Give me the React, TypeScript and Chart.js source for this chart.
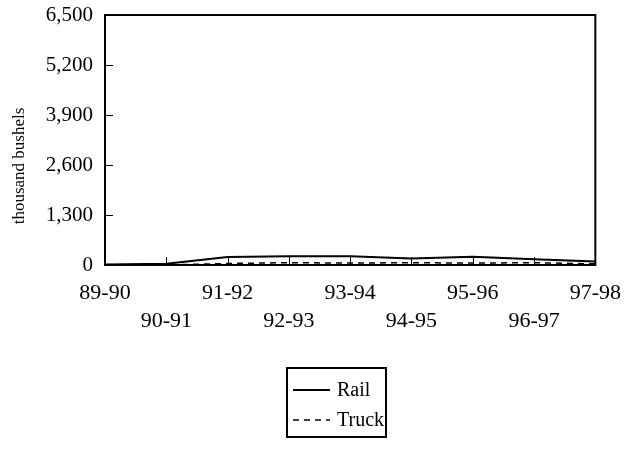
import React, { useEffect, useRef } from "react";
import { Chart, registerables } from "chart.js";

Chart.register(...registerables);

const categories = ["89-90", "90-91", "91-92", "92-93", "93-94", "94-95", "95-96", "96-97", "97-98"];
const railValues = [10, 30, 210, 230, 230, 170, 215, 150, 90];
const truckValues = [0, 0, 40, 60, 50, 60, 50, 60, 30];
const yTicks = [0, 1300, 2600, 3900, 5200, 6500];
const yTitle = "thousand bushels";

const FONT = "'Liberation Serif', 'Times New Roman', serif";

const framePlugin = {
  id: "frame",
  afterDraw(chart: any, _args: any, opts: any) {
    const { ctx, chartArea } = chart;
    const { left, right, top, bottom } = chartArea;
    const ys = chart.scales.y;
    const xs = chart.scales.x;
    ctx.save();
    ctx.strokeStyle = "#000";
    ctx.lineWidth = 2;
    ctx.setLineDash([]);
    ctx.strokeRect(left, top, right - left, bottom - top);
    ctx.lineWidth = 1;
    ctx.beginPath();
    yTicks.forEach((v) => {
      if (v === 0 || v === 6500) return;
      const y = Math.round(ys.getPixelForValue(v)) + 0.5;
      ctx.moveTo(left, y);
      ctx.lineTo(left + 8, y);
    });
    categories.forEach((_, i) => {
      if (i === 0 || i === categories.length - 1) return;
      const x = Math.round(xs.getPixelForValue(i)) + 0.5;
      ctx.moveTo(x, bottom);
      ctx.lineTo(x, bottom - 8);
    });
    ctx.stroke();
    // y-axis title
    ctx.translate(opts.titleX, opts.titleY);
    ctx.rotate(-Math.PI / 2);
    ctx.font = `17px ${FONT}`;
    ctx.fillStyle = "#000";
    ctx.textAlign = "center";
    ctx.textBaseline = "middle";
    ctx.fillText(yTitle, 0, 0);
    ctx.restore();
  },
};

const legendPlugin = {
  id: "boxLegend",
  afterDraw(chart: any, _args: any, opts: any) {
    const { ctx } = chart;
    const { x, y, w, h } = opts;
    ctx.save();
    ctx.fillStyle = "#fff";
    ctx.fillRect(x, y, w, h);
    ctx.strokeStyle = "#000";
    ctx.lineWidth = 2;
    ctx.setLineDash([]);
    ctx.strokeRect(x, y, w, h);
    ctx.font = `20px ${FONT}`;
    ctx.textBaseline = "middle";
    ctx.fillStyle = "#000";
    chart.data.datasets.forEach((ds: any, i: number) => {
      const ly = y + 22 + i * 30;
      ctx.beginPath();
      ctx.lineWidth = ds.borderWidth;
      ctx.setLineDash(ds.borderDash || []);
      ctx.moveTo(x + 6, ly);
      ctx.lineTo(x + 43, ly);
      ctx.stroke();
      ctx.setLineDash([]);
      ctx.fillText(ds.label, x + 50, ly + 1);
    });
    ctx.restore();
  },
};

export default function App() {
  const canvasRef = useRef<HTMLCanvasElement | null>(null);

  useEffect(() => {
    if (!canvasRef.current) return;
    const chart = new Chart(canvasRef.current, {
      type: "line",
      data: {
        labels: categories,
        datasets: [
          {
            label: "Rail",
            data: railValues,
            borderColor: "#000",
            borderWidth: 2,
            pointRadius: 0,
            tension: 0,
            fill: false,
          },
          {
            label: "Truck",
            data: truckValues,
            borderColor: "#000",
            borderWidth: 1.5,
            borderDash: [6, 5],
            pointRadius: 0,
            tension: 0,
            fill: false,
          },
        ],
      },
      options: {
        animation: false,
        responsive: true,
        maintainAspectRatio: false,
        layout: { padding: { left: 0, right: 35, top: 15, bottom: 0 } },
        plugins: {
          legend: { display: false },
          tooltip: { enabled: false },
          frame: { titleX: 20, titleY: 166 },
          boxLegend: { x: 287, y: 368, w: 99, h: 69 },
        } as any,
        scales: {
          x: {
            type: "category",
            offset: false,
            grid: { display: false, drawTicks: false },
            border: { display: false },
            ticks: {
              autoSkip: false,
              maxRotation: 0,
              minRotation: 0,
              padding: 14,
              color: "#000",
              font: { family: FONT, size: 22, lineHeight: 1.27 },
              callback: (_v: any, i: number) => (i % 2 === 0 ? categories[i] : ["", categories[i]]),
            },
            afterFit: (s: any) => {
              s.height = 184;
            },
          },
          y: {
            min: 0,
            max: 6500,
            grid: { display: false, drawTicks: false },
            border: { display: false },
            afterBuildTicks: (s: any) => {
              s.ticks = yTicks.map((v) => ({ value: v }));
            },
            ticks: {
              padding: 12,
              color: "#000",
              font: { family: FONT, size: 21 },
              callback: (v: any) => Number(v).toLocaleString("en-US"),
            },
            afterFit: (s: any) => {
              s.width = 105;
              s.paddingTop = 0;
              s.paddingBottom = 0;
            },
          },
        },
      },
      plugins: [framePlugin, legendPlugin],
    });
    return () => chart.destroy();
  }, []);

  return (
    <div style={{ position: "absolute", left: 0, top: 0, width: 635, height: 449, background: "#fff" }}>
      <canvas ref={canvasRef} />
    </div>
  );
}
